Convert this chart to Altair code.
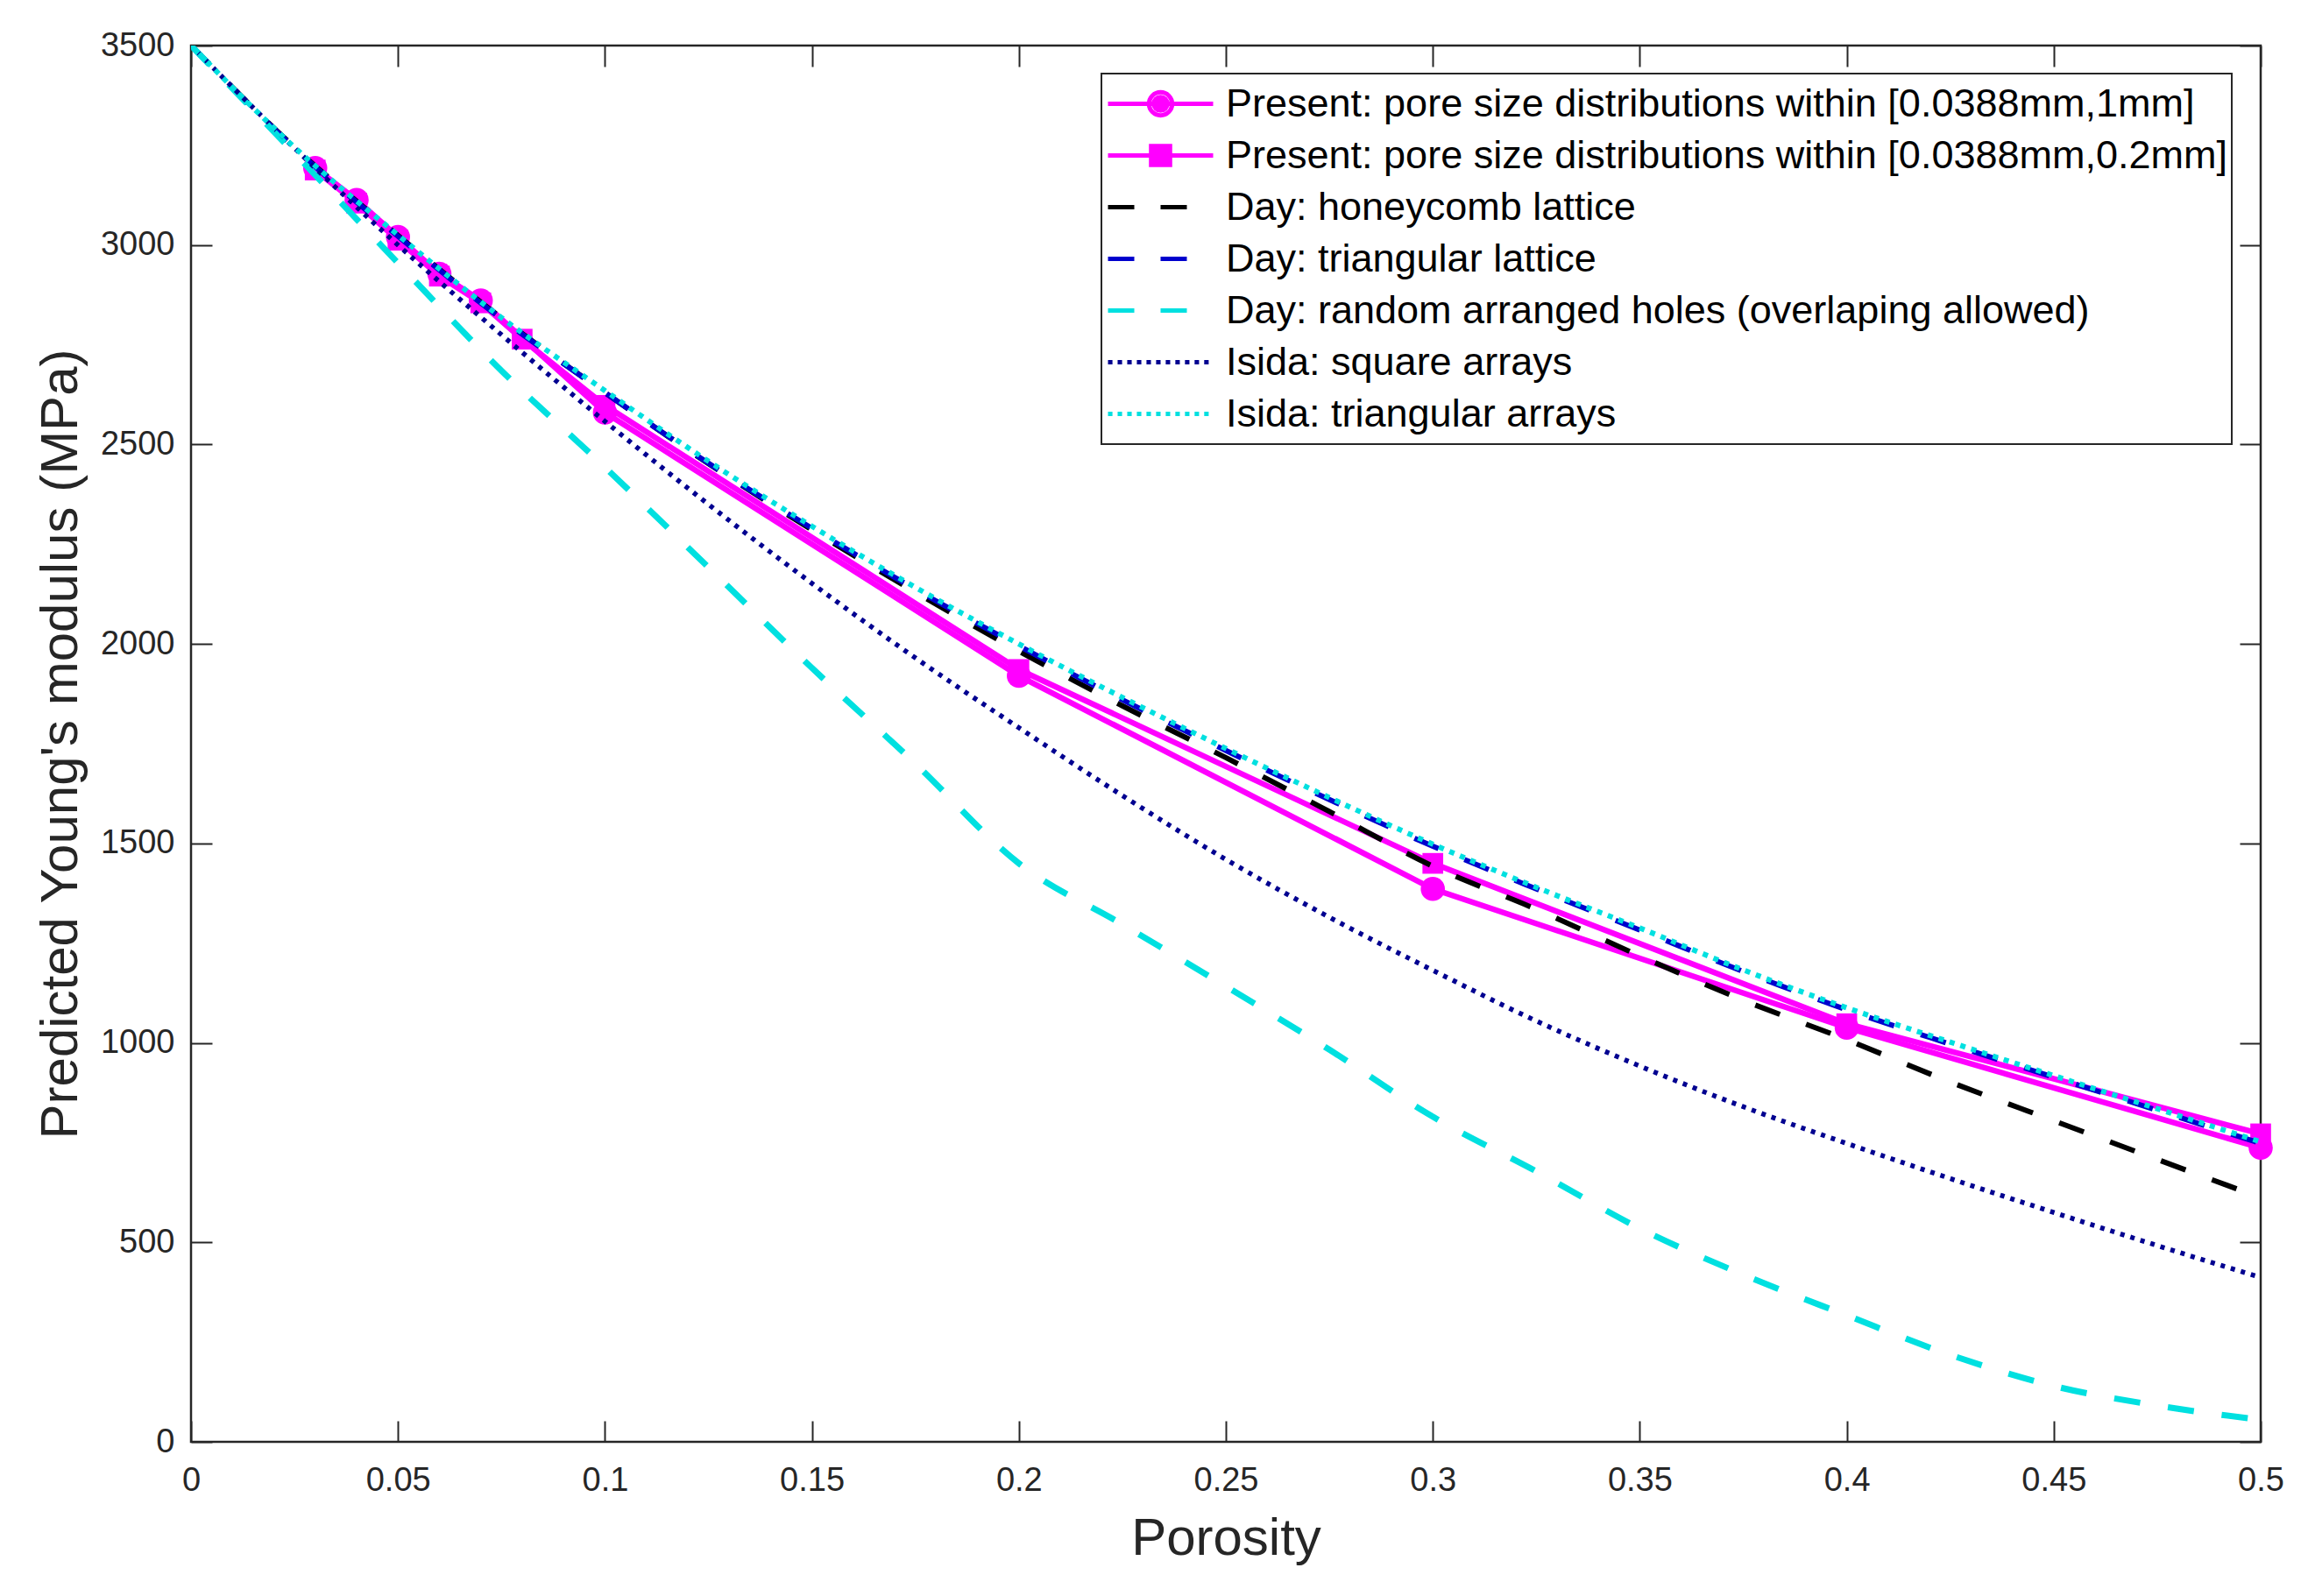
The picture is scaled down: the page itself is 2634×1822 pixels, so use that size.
import altair as alt
import pandas as pd

# ---------------- data ----------------
porosity = [0.0, 0.025, 0.05, 0.075, 0.1, 0.125, 0.15, 0.175, 0.2, 0.225, 0.25,
            0.275, 0.3, 0.325, 0.35, 0.375, 0.4, 0.425, 0.45, 0.475, 0.5]

day_honeycomb = [3500, 3245, 3024, 2817, 2630, 2452, 2286, 2130, 1982, 1845, 1715,
                 1580, 1443, 1335, 1218, 1107, 1008, 902, 805, 708, 612]
day_triangular = [3500, 3243, 3022, 2815, 2630, 2453, 2290, 2137, 1995, 1860, 1733,
                  1610, 1493, 1386, 1283, 1179, 1083, 997, 914, 831, 748]
day_random = [3500, 3230, 2955, 2685, 2443, 2192, 1940, 1700, 1450, 1297, 1142,
              983, 815, 678, 535, 419, 317, 218, 140, 91, 55]
isida_square = [3500, 3243, 3000, 2775, 2558, 2350, 2152, 1965, 1790, 1620, 1460,
                1315, 1182, 1055, 942, 840, 748, 660, 575, 492, 412]
isida_triangular = [3500, 3245, 3025, 2818, 2635, 2458, 2295, 2142, 2000, 1866, 1738,
                    1615, 1498, 1390, 1288, 1183, 1088, 1002, 918, 835, 752]

present_1mm_x = [0.03, 0.04, 0.05, 0.06, 0.07, 0.1, 0.2, 0.3, 0.4, 0.5]
present_1mm_y = [3193, 3113, 3020, 2928, 2861, 2580, 1920, 1386, 1038, 737]
present_02mm_x = [0.03, 0.04, 0.05, 0.06, 0.07, 0.08, 0.1, 0.2, 0.3, 0.4, 0.5]
present_02mm_y = [3188, 3105, 3012, 2922, 2855, 2764, 2598, 1936, 1450, 1048, 772]

series_names = [
    "Present: pore size distributions within [0.0388mm,1mm]",
    "Present: pore size distributions within [0.0388mm,0.2mm]",
    "Day: honeycomb lattice",
    "Day: triangular lattice",
    "Day: random arranged holes (overlaping allowed)",
    "Isida: square arrays",
    "Isida: triangular arrays",
]
series_colors = ["#FF00FF", "#FF00FF", "#000000", "#0000CD", "#00E0E0", "#000090", "#00E0E0"]

x_ticks = [0, 0.05, 0.1, 0.15, 0.2, 0.25, 0.3, 0.35, 0.4, 0.45, 0.5]
y_ticks = [0, 500, 1000, 1500, 2000, 2500, 3000, 3500]

# ---------------- long table ----------------
rows = []
def add(name, xs, ys):
    for xv, yv in zip(xs, ys):
        rows.append({"series": name, "porosity": xv, "modulus": yv})

add(series_names[0], present_1mm_x, present_1mm_y)
add(series_names[1], present_02mm_x, present_02mm_y)
add(series_names[2], porosity, day_honeycomb)
add(series_names[3], porosity, day_triangular)
add(series_names[4], porosity, day_random)
add(series_names[5], porosity, isida_square)
add(series_names[6], porosity, isida_triangular)
df = pd.DataFrame(rows)

# ---------------- styling ----------------
W, H = 2362, 1594
AX = "#262626"
FONT = "Liberation Sans"
xscale = alt.Scale(domain=[0, 0.5], nice=False, zero=False)
yscale = alt.Scale(domain=[0, 3500], nice=False)

# legend symbols (unit box [-1,1])
solid = "M-1,0H1"
rings = "".join(f"M{r},0A{r},{r} 0 1,0 {-r},0A{r},{r} 0 1,0 {r},0" for r in (0.22, 0.13, 0.05))
squares = "".join(f"M{-h},{-h}H{h}V{h}H{-h}Z" for h in (0.18, 0.105, 0.035))
dashed = "M-1,0H-0.5M0,0H0.5"
dotted = "".join(f"M{-1 + i * 0.183:.3f},0h0.085" for i in range(11))
symbol_paths = [solid + rings, solid + squares, dashed, dashed, dashed, dotted, dotted]

x_main = alt.Axis(orient="bottom", values=x_ticks, format="~g", title="Porosity",
                  ticks=False, domain=False, grid=False, labelFlush=False, labelOverlap=False,
                  labelFont=FONT, labelFontSize=38, labelColor=AX, labelPadding=25,
                  titleFont=FONT, titleFontSize=60, titleFontWeight="normal",
                  titleColor=AX, titlePadding=18)
y_main = alt.Axis(orient="left", values=y_ticks, format="d",
                  title="Predicted Young's modulus (MPa)",
                  ticks=False, domain=False, grid=False, labelFlush=False, labelOverlap=False,
                  labelFont=FONT, labelFontSize=38, labelColor=AX, labelPadding=19,
                  titleFont=FONT, titleFontSize=60, titleFontWeight="normal",
                  titleColor=AX, titlePadding=14)


def tick_axis(orient, offset, values):
    return alt.Axis(orient=orient, offset=offset, values=values, labels=False,
                    domain=False, grid=False, ticks=True, tickSize=24, tickWidth=2,
                    tickColor=AX, title=None)


def xy(xaxis=None, yaxis=None):
    return dict(
        x=alt.X("porosity:Q", scale=xscale, axis=xaxis),
        y=alt.Y("modulus:Q", scale=yscale, axis=yaxis),
    )


def line_layer(name, color, width, dash=None, interp="monotone"):
    kw = dict(color=color, strokeWidth=width, interpolate=interp, clip=True)
    if dash:
        kw["strokeDash"] = dash
    return (alt.Chart(df).transform_filter(alt.datum.series == name)
            .mark_line(**kw).encode(**xy()))


present1 = line_layer(series_names[0], "#FF00FF", 6.5, interp="linear")
present2 = line_layer(series_names[1], "#FF00FF", 6.5, interp="linear")
circles = (alt.Chart(df).transform_filter(alt.datum.series == series_names[0])
           .mark_point(shape="circle", filled=True, color="#FF00FF", size=760, opacity=1)
           .encode(**xy(tick_axis("top", -H, x_ticks), tick_axis("right", -W, y_ticks))))
squares_l = (alt.Chart(df).transform_filter(alt.datum.series == series_names[1])
             .mark_point(shape="square", filled=True, color="#FF00FF", size=560, opacity=1)
             .encode(**xy(tick_axis("bottom", -H, x_ticks), tick_axis("left", -W, y_ticks))))
honey = line_layer(series_names[2], "#000000", 6, dash=[30, 32])
tri = line_layer(series_names[3], "#0000CD", 6, dash=[30, 32])
rand = line_layer(series_names[4], "#00E0E0", 7, dash=[30, 32])
isq = line_layer(series_names[5], "#000090", 5.5, dash=[5, 7])
itri = line_layer(series_names[6], "#00E0E0", 6, dash=[6, 7])

legend_cfg = dict(title=None, orient="none", legendX=1039, legendY=32, direction="vertical",
                  symbolSize=14400, symbolStrokeWidth=5, symbolOpacity=1, clipHeight=59,
                  rowPadding=0, labelFont=FONT, labelFontSize=45, labelColor="#000000",
                  labelLimit=3000, labelOffset=12, padding=5, strokeColor=AX,
                  fillColor="#FFFFFF")

legend_layer = alt.Chart(df).mark_point(opacity=0, filled=False).encode(
    **xy(x_main, y_main),
    color=alt.Color("series:N", scale=alt.Scale(domain=series_names, range=series_colors),
                    legend=alt.Legend(**legend_cfg)),
    shape=alt.Shape("series:N", scale=alt.Scale(domain=series_names, range=symbol_paths),
                    legend=alt.Legend(**legend_cfg)),
)

chart = (alt.layer(present1, present2, circles, squares_l, honey, tri, rand, isq, itri,
                   legend_layer)
         .resolve_axis(x="independent", y="independent")
         .properties(width=W, height=H,
                     autosize=alt.AutoSizeParams(type="none"),
                     padding={"left": 210, "top": 44, "right": 40, "bottom": 160},
                     background="#FFFFFF")
         .configure_view(stroke=AX, strokeWidth=2.5)
         .configure_legend(strokeWidth=2))

chart.save("out.html", embed_options={"renderer": "svg", "actions": False})
